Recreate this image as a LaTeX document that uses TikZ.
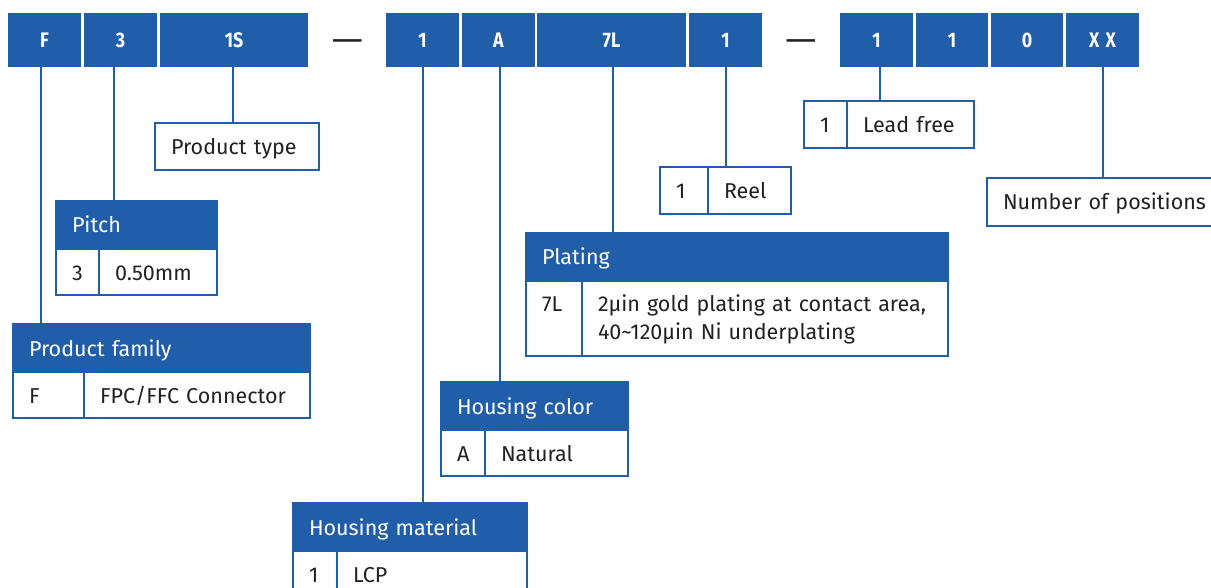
\documentclass[tikz,border=0pt]{standalone}
\usepackage{fontspec}
\usepackage{graphicx}
\setmainfont{Fira Sans}
\newfontfamily\codefont[FakeStretch=0.85]{Fira Sans}
\definecolor{brand}{RGB}{33,94,170}
\definecolor{ink}{RGB}{34,32,33}
\begin{document}
\begin{tikzpicture}[x=1pt,y=-1pt,
  topbox/.style={fill=brand, inner sep=0pt, outer sep=0pt, minimum height=54pt, anchor=north west, text=white,
    font=\codefont\bfseries\fontsize{21}{24}\selectfont, text height=15pt, text depth=0pt},
  dashmark/.style={inner sep=0pt, text=ink, font=\bfseries\fontsize{21}{24}\selectfont, text height=15pt, text depth=0pt},
  hdr/.style={fill=brand, draw=brand, line width=2pt, text=white, anchor=north west, inner xsep=16pt, inner ysep=0pt,
    outer sep=0pt, align=left, minimum height=48pt, text height=20pt, text depth=4pt, font=\fontsize{21.5}{28}\selectfont},
  cell/.style={fill=white, draw=brand, line width=2pt, text=ink, anchor=north west, inner xsep=16pt, inner ysep=0pt,
    outer sep=0pt, align=left, minimum height=46pt, text height=20pt, text depth=4pt, font=\fontsize{21.5}{28}\selectfont},
  link/.style={draw=brand, line width=2pt}]
\useasboundingbox (0,0) rectangle (1211,588);
\fill[white] (0,0) rectangle (1211,588);

% top code bar
\node[topbox, minimum width=73pt]  (tF)  at (8,13)    {F};
\node[topbox, minimum width=73pt]  (t3)  at (84,13)   {3};
\node[topbox, minimum width=148pt] (t1S) at (160,13)  {1S};
\node[dashmark] (d1) at (347.5,40) {\scalebox{1.8}[1]{—}};
\node[topbox, minimum width=73pt]  (t1)  at (386,13)  {1};
\node[topbox, minimum width=73pt]  (tA)  at (462,13)  {A};
\node[topbox, minimum width=149pt] (t7L) at (537,13)  {7L};
\node[topbox, minimum width=73pt]  (t1b) at (689,13)  {1};
\node[dashmark] (d2) at (801,40) {\scalebox{1.8}[1]{—}};
\node[topbox, minimum width=73pt]  (t1c) at (840,13)  {1};
\node[topbox, minimum width=72pt]  (t1d) at (916,13)  {1};
\node[topbox, minimum width=72pt]  (t0)  at (991,13)  {0};
\node[topbox, minimum width=73pt]  (tXX) at (1066,13) {X\kern6pt X};

% Product type
\node[cell, text width=132pt, minimum height=47pt] (ptype) at (155,123) {Product type};

% Pitch
\node[hdr, text width=129pt] (pitchH) at (56,201) {Pitch};
\node[cell, text width=11pt] (pitchC) at (pitchH.south west) {3};
\node[cell, text width=86pt] (pitchD) at (pitchC.north east) {0.50mm};

% Product family
\node[hdr, text width=265pt] (famH) at (13,324) {Product family};
\node[cell, text width=39pt] (famC) at (famH.south west) {F};
\node[cell, text width=194pt] (famD) at (famC.north east) {FPC/FFC Connector};

% Housing material
\node[hdr, text width=202pt] (matH) at (293,503) {Housing material};
\node[cell, text width=12pt] (matC) at (matH.south west) {1};
\node[cell, text width=158pt] (matD) at (matC.north east) {LCP};

% Housing color
\node[hdr, text width=155pt] (colH) at (441,382) {Housing color};
\node[cell, text width=12pt] (colC) at (colH.south west) {A};
\node[cell, text width=111pt] (colD) at (colC.north east) {Natural};

% Plating
\node[hdr, text width=390pt] (plH) at (526,233) {Plating};
\node[cell, text width=24pt, minimum height=75pt, text depth=33.6pt] (plC) at (plH.south west) {7L};
\node[cell, text width=334pt, minimum height=75pt, text depth=33.6pt] (plD) at (plC.north east)
  {\mbox{2µin gold plating at contact area,}\\\mbox{40\textasciitilde120µin Ni underplating}};

% Reel
\node[cell, text width=16pt, minimum height=47pt] (reelC) at (660,167) {1};
\node[cell, text width=51pt, minimum height=47pt] (reelD) at (reelC.north east) {Reel};

% Lead free
\node[cell, text width=11pt, minimum height=47pt] (leadC) at (804,101) {1};
\node[cell, text width=95pt, minimum height=47pt] (leadD) at (leadC.north east) {Lead free};

% Number of positions
\node[cell, text width=208pt, minimum height=48pt] (npos) at (987,178) {Number of positions};

% connectors
\draw[link] ([xshift=-3.5pt]tF.south)  -- ([xshift=-3.5pt]tF.south |- famH.north);
\draw[link] ([xshift=-6.5pt]t3.south)  -- ([xshift=-6.5pt]t3.south |- pitchH.north);
\draw[link] ([xshift=-1.5pt]t1S.south) -- ([xshift=-1.5pt]t1S.south |- ptype.north);
\draw[link] (t1.south) -- (t1.south |- matH.north);
\draw[link] ([xshift=1.5pt]tA.south)  -- ([xshift=1.5pt]tA.south |- colH.north);
\draw[link] ([xshift=1.5pt]t7L.south) -- ([xshift=1.5pt]t7L.south |- plH.north);
\draw[link] (t1b.south) -- (t1b.south |- reelC.north);
\draw[link] ([xshift=3.5pt]t1c.south) -- ([xshift=3.5pt]t1c.south |- leadC.north);
\draw[link] (tXX.south) -- (tXX.south |- npos.north);
\end{tikzpicture}
\end{document}
